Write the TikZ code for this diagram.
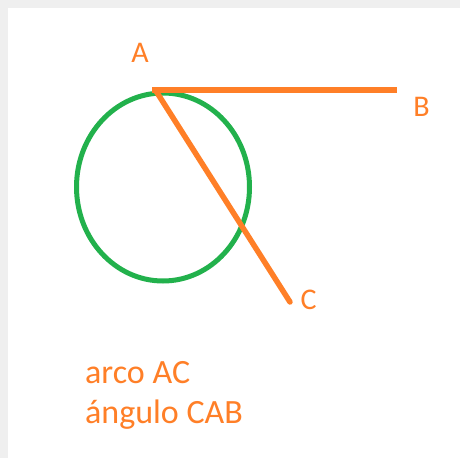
\documentclass[tikz,border=0pt]{standalone}
\usepackage{fontspec}
\setmainfont{Carlito}
\definecolor{paintorange}{HTML}{FF7F27}
\definecolor{paintgreen}{HTML}{22B14C}
\definecolor{frame}{HTML}{EFEFEF}
\begin{document}
\begin{tikzpicture}[x=1pt,y=-1pt,
  seg/.style={draw=paintorange,line width=5.5pt},
  ring/.style={draw=paintgreen,line width=5pt},
  lbl/.style={text=paintorange,font=\fontsize{30}{36}\selectfont,inner sep=0pt,anchor=base},
  txt/.style={text=paintorange,font=\fontsize{34}{40}\selectfont,inner sep=0pt,anchor=base west,align=left}]
\useasboundingbox (0,0) rectangle (460,458);
\fill[frame] (0,0) rectangle (460,458);
\fill[white] (8,8) rectangle (460,458);
\coordinate (O) at (163,187);
\draw[ring] (O) ellipse [x radius=86.5, y radius=94];
\coordinate (A) at (152,90);
\coordinate (A2) at (156,91);
\coordinate (B) at (397,90);
\coordinate (C) at (290,302);
\draw[seg] (A) -- (B);
\draw[seg,line cap=round] (A2) -- (C);
\node[lbl] (la) at (140,62) {A};
\node[lbl] (lb) at (421.5,116) {B};
\node[lbl] (lc) at (308.5,309) {C};
\node[txt] (t1) at (85,383) {arco AC};
\node[txt] (t2) at (85,423) {ángulo CAB};
\end{tikzpicture}
\end{document}
